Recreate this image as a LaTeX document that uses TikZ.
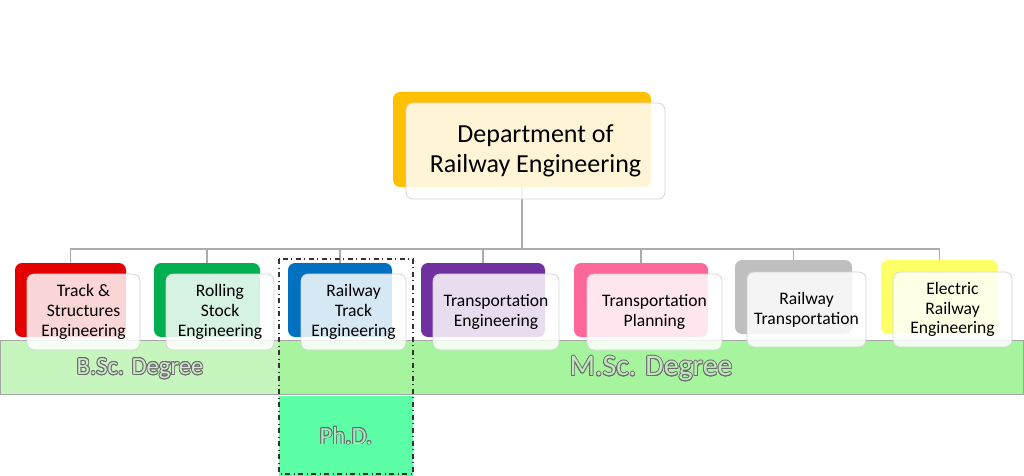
\documentclass[tikz,border=0pt]{standalone}
\usepackage{fontspec}
\setmainfont{Carlito}
\usepackage{contour}
\usetikzlibrary{positioning}
\definecolor{deptcol}{RGB}{255,192,0}
\definecolor{trackcol}{RGB}{228,0,0}
\definecolor{stockcol}{RGB}{0,176,80}
\definecolor{rtrackcol}{RGB}{0,112,192}
\definecolor{transcol}{RGB}{112,48,160}
\definecolor{plancol}{RGB}{255,102,153}
\definecolor{rtranscol}{RGB}{191,191,191}
\definecolor{eleccol}{RGB}{255,255,102}
\definecolor{bsccol}{RGB}{198,246,190}
\definecolor{msccol}{RGB}{166,245,158}
\definecolor{phdcol}{RGB}{92,255,166}
\contourlength{0.45pt}

\begin{document}
\begin{tikzpicture}[x=0.02cm,y=-0.02cm,
  boxsize/.style 2 args={minimum width=#1*0.02cm,minimum height=#2*0.02cm},
  backbox/.style={rectangle,rounded corners=4pt,inner sep=0pt},
  frontbox/.style={rectangle,rounded corners=4pt,draw=gray!35,fill=white,
    fill opacity=0.84,text opacity=1,align=center,inner sep=1pt,
    font=\fontsize{10}{11.2}\selectfont},
  conn/.style={draw=gray!65,line width=0.6pt},
  degree/.style={inner sep=0pt}]
  \useasboundingbox (0,0) rectangle (1024,476);

  % degree bands
  \fill[bsccol] (0,340) rectangle (279,394);
  \fill[msccol] (279,340) rectangle (1023,394);
  \draw[gray!70] (0,340) rectangle (1023,394);
  \node[degree,font=\fontsize{14}{16}\selectfont,text=white!45!bsccol!85!gray] (bsc) at (140,369)
    {\contour{gray!85!black}{B.Sc. Degree}};
  \node[degree,font=\fontsize{17}{19}\selectfont,text=white!45!msccol!85!gray] (msc) at (651,369)
    {\contour{gray!85!black}{M.Sc. Degree}};

  % coloured back boxes
  \node[backbox,fill=deptcol,boxsize={258}{95}] (dept) at (522,139.5) {};
  \node[backbox,fill=trackcol,boxsize={111}{74}]  (b1) at (70.5,300) {};
  \node[backbox,fill=stockcol,boxsize={106}{74}]  (b2) at (207,300) {};
  \node[backbox,fill=rtrackcol,boxsize={104}{74}] (b3) at (340,300) {};
  \node[backbox,fill=transcol,boxsize={124}{74}]  (b4) at (483,300) {};
  \node[backbox,fill=plancol,boxsize={134}{74}]   (b5) at (641,300) {};
  \node[backbox,fill=rtranscol,boxsize={117}{74}] (b6) at (793.5,297) {};
  \node[backbox,fill=eleccol,boxsize={117}{74}]   (b7) at (939.5,297) {};

  % hierarchy lines
  \coordinate (bus) at (522,249);
  \draw[conn] (dept.south) -- (bus);
  \foreach \i in {1,...,7}
    \draw[conn] (bus) -| (b\i.north);

  % text boxes
  \node[frontbox,boxsize={259}{96},font=\fontsize{14.8}{16.8}\selectfont] (deptt) at (535.5,151)
    {Department of\\Railway Engineering};
  \node[frontbox,boxsize={113}{76}] (f1) at (83.5,312) {Track \&\\Structures\\Engineering};
  \node[frontbox,boxsize={108}{76}] (f2) at (220,312) {Rolling\\Stock\\Engineering};
  \node[frontbox,boxsize={105}{76}] (f3) at (353.5,312) {Railway\\Track\\Engineering};
  \node[frontbox,boxsize={126}{76}] (f4) at (496,312) {Transportation\\Engineering};
  \node[frontbox,boxsize={135}{76}] (f5) at (654.5,312) {Transportation\\Planning};
  \node[frontbox,boxsize={119}{75}] (f6) at (806.5,309.5) {Railway\\Transportation};
  \node[frontbox,boxsize={119}{75}] (f7) at (952.5,309.5) {Electric\\Railway\\Engineering};

  % Ph.D. box and the frame round it
  \node[fill=phdcol,inner sep=0pt,boxsize={134}{80},font=\fontsize{14}{16}\selectfont,
    text=white!45!phdcol!85!gray] (phd) at (346,436) {\contour{gray!85!black}{Ph.D.}};
  \draw[dashdotted,line width=0.8pt,black!80] (279,259) rectangle (413,474);
\end{tikzpicture}
\end{document}
